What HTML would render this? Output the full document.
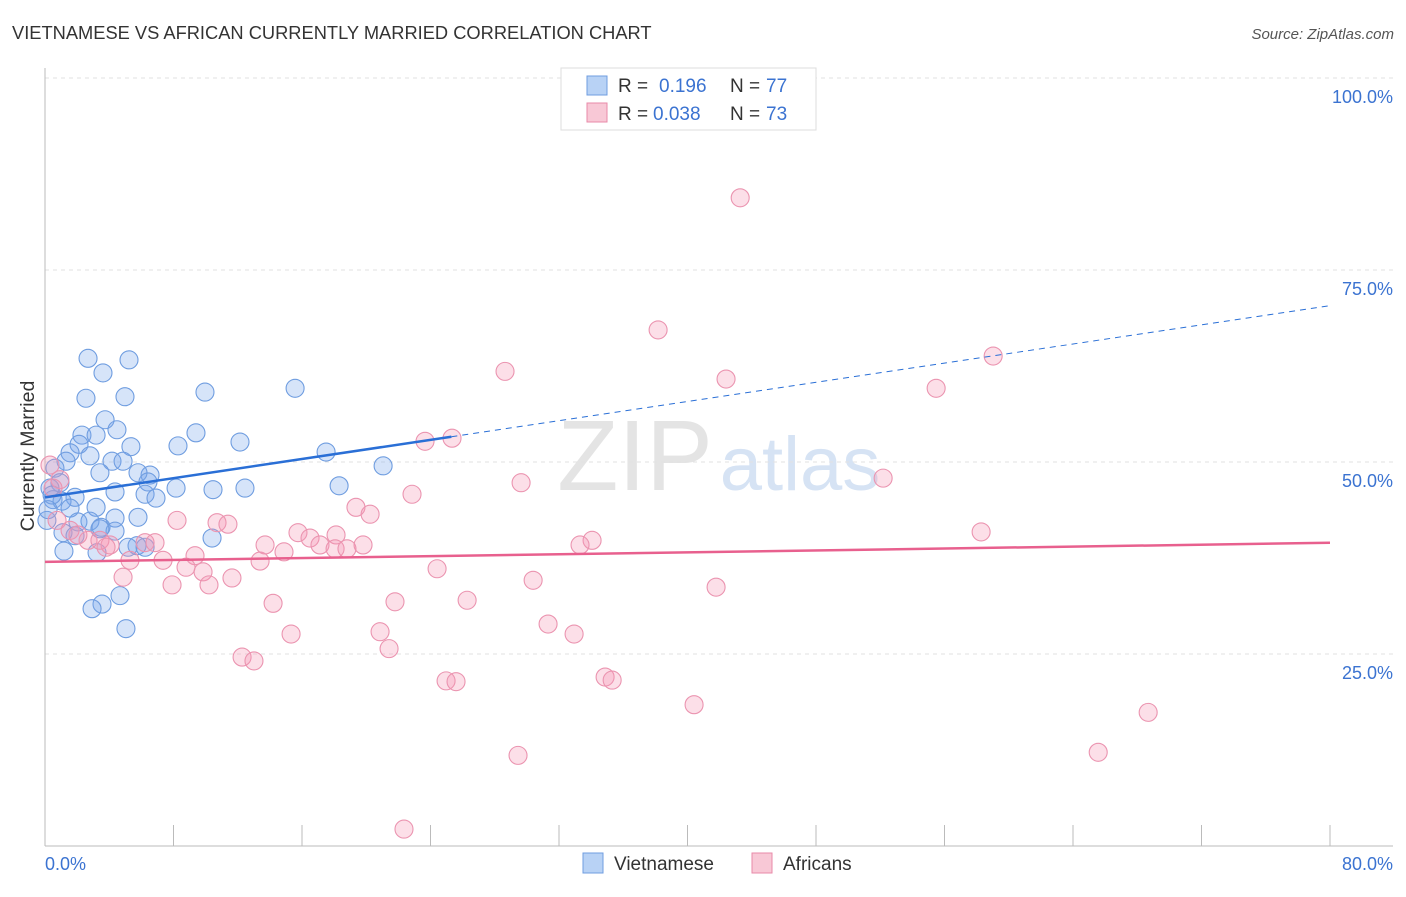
<!DOCTYPE html>
<html><head><meta charset="utf-8"><style>
body{margin:0;background:#fff;font-family:"Liberation Sans",sans-serif;}
svg text{font-family:"Liberation Sans",sans-serif;}
</style></head><body>
<svg id="chart" width="1406" height="892">
<text x="12" y="39" font-size="18.3" fill="#333">VIETNAMESE VS AFRICAN CURRENTLY MARRIED CORRELATION CHART</text>
<text x="1394" y="39" font-size="15" fill="#555" font-style="italic" text-anchor="end">Source: ZipAtlas.com</text>
<text x="635" y="490" font-size="100" fill="#e4e4e4" font-family="Liberation Serif" text-anchor="middle">ZIP</text>
<text x="800" y="490" font-size="76" fill="#d6e3f4" text-anchor="middle">atlas</text>
<text transform="translate(34,456) rotate(-90)" font-size="19.5" fill="#333" text-anchor="middle">Currently Married</text>
<g id="grid"></g><g id="axes"></g><g id="pts"></g><g id="lines"></g>
<g>
<rect x="561" y="68" width="255" height="62" fill="#fff" stroke="#ddd"/>
<rect x="587" y="76" width="20" height="19" fill="#b8d2f5" stroke="#6f9de0"/>
<text x="618" y="92" font-size="19" fill="#333">R = </text><text x="659" y="92" font-size="19" fill="#3b73d1">0.196</text>
<text x="730" y="92" font-size="19" fill="#333">N = </text><text x="766" y="92" font-size="19" fill="#3b73d1">77</text>
<rect x="587" y="103" width="20" height="19" fill="#f8c8d6" stroke="#e88aa8"/>
<text x="618" y="120" font-size="19" fill="#333">R = </text><text x="653" y="120" font-size="19" fill="#3b73d1">0.038</text>
<text x="730" y="120" font-size="19" fill="#333">N = </text><text x="766" y="120" font-size="19" fill="#3b73d1">73</text>
</g>
<g>
<rect x="583" y="853" width="20" height="20" fill="#b8d2f5" stroke="#6f9de0"/>
<text x="614" y="870" font-size="19" fill="#333">Vietnamese</text>
<rect x="752" y="853" width="20" height="20" fill="#f8c8d6" stroke="#e88aa8"/>
<text x="783" y="870" font-size="19" fill="#333">Africans</text>
</g>
</svg>
<script>
const blueX=[2.68,5.23,3.61,2.55,4.98,9.96,15.57,3.74,4.48,2.30,3.18,2.12,5.35,8.28,12.14,9.40,1.56,2.80,4.17,4.86,17.50,21.05,1.31,3.42,6.54,5.79,6.41,0.62,4.36,8.16,10.46,12.45,18.31,6.23,6.91,0.93,0.31,1.87,0.50,1.06,3.18,1.56,5.79,4.36,2.05,2.80,3.49,4.36,10.40,1.12,1.87,3.42,5.73,5.17,6.23,3.24,1.18,0.12,4.67,3.55,2.93,5.04,0.44,0.19];
const blueY=[63.5,63.3,61.6,58.3,58.5,59.1,59.6,55.5,54.2,53.5,53.5,52.3,52.0,52.1,52.6,53.8,51.2,50.8,50.1,50.1,51.3,49.5,50.1,48.6,48.3,48.6,47.4,49.2,46.1,46.6,46.4,46.6,46.9,45.8,45.3,47.3,46.6,45.4,45.1,44.9,44.1,44.0,42.8,42.7,42.2,42.3,41.5,41.0,40.1,40.8,40.4,41.3,39.1,38.9,38.9,38.2,38.4,42.4,32.6,31.5,30.9,28.3,45.7,43.8];
const pinkX=[43.28,38.17,59.03,28.64,42.40,55.48,25.34,23.66,52.18,29.64,22.85,19.36,20.24,8.22,10.71,11.39,58.28,15.75,34.06,33.31,18.12,16.50,17.12,18.06,13.70,19.80,18.80,14.88,6.23,6.85,9.34,13.39,7.35,8.78,9.84,4.86,5.29,24.41,30.39,11.64,7.91,10.21,41.78,26.28,14.20,21.79,31.32,32.94,15.32,20.86,12.27,13.01,21.42,24.97,25.59,34.87,35.31,40.41,68.68,29.45,65.57,22.35,0.31,0.93,0.50,2.68,3.42,4.05,1.56,2.05,3.80,0.75];
const pinkY=[84.4,67.2,63.8,61.8,60.8,59.6,53.1,52.7,47.9,47.3,45.8,44.1,43.2,42.4,42.1,41.9,40.9,40.8,39.8,39.2,40.5,40.1,39.2,38.7,39.2,39.2,38.7,38.3,39.5,39.5,37.8,37.1,37.2,36.3,35.7,35.0,37.2,36.1,34.6,34.9,34.0,34.0,33.7,32.0,31.6,31.8,28.9,27.6,27.6,27.9,24.6,24.1,25.7,21.5,21.4,22.0,21.6,18.4,17.4,11.8,12.2,2.2,49.6,47.7,46.6,39.8,39.8,39.2,41.1,40.5,38.9,42.4];
const yTicks=[25,50,75,100];
const yTickLabels=["25.0%","50.0%","75.0%","100.0%"];
const xTicks=[0,8,16,24,32,40,48,56,64,72,80];
const blueTrend=[45.4,0.312,25.3];
const pinkTrend=[37.0,0.031];
const NS="http://www.w3.org/2000/svg";
const sx=v=>45+v*16.0625, sy=v=>846-v*7.68;
function mk(tag,attrs,parent){const e=document.createElementNS(NS,tag);for(const k in attrs)e.setAttribute(k,attrs[k]);document.getElementById(parent).appendChild(e);return e;}
yTicks.forEach((t,i)=>{
  const g=mk('line',{x1:45,x2:1393,y1:sy(t),y2:sy(t),stroke:'#e2e2e2','stroke-dasharray':'4,4'},'grid');
  
  
  const l=mk('text',{x:1393,y:sy(t)+25,'font-size':18,fill:'#3b73d1','text-anchor':'end'},'grid');
  l.textContent=yTickLabels[i];
  
  
});
const ax=mk('line',{x1:45,x2:45,y1:68,y2:846,stroke:'#bbb'},'axes');


const bx=mk('line',{x1:45,x2:1393,y1:846,y2:846,stroke:'#bbb'},'axes');


xTicks.forEach(t=>{
  const k=mk('line',{x1:sx(t),x2:sx(t),y1:825,y2:846,stroke:'#bbb'},'axes');
  
  
});
const xl0=mk('text',{x:45,y:870,'font-size':18,fill:'#3b73d1'},'axes');xl0.textContent="0.0%";


const xl1=mk('text',{x:1393,y:870,'font-size':18,fill:'#3b73d1','text-anchor':'end'},'axes');xl1.textContent="80.0%";


blueX.forEach((x,i)=>{
  const c=mk('circle',{cx:sx(x),cy:sy(blueY[i]),r:9,fill:'rgba(120,165,235,0.3)',stroke:'#6f9de0','stroke-width':1.1},'pts');
  
  
});
pinkX.forEach((x,i)=>{
  const c=mk('circle',{cx:sx(x),cy:sy(pinkY[i]),r:9,fill:'rgba(245,150,180,0.3)',stroke:'#eb94b0','stroke-width':1.1},'pts');
  
  
});
const bl=mk('line',{x1:sx(0),y1:sy(blueTrend[0]),x2:sx(blueTrend[2]),y2:sy(blueTrend[0]+blueTrend[1]*blueTrend[2]),stroke:'#2a6fd6','stroke-width':2.5},'lines');


const bd=mk('line',{x1:sx(blueTrend[2]),y1:sy(blueTrend[0]+blueTrend[1]*blueTrend[2]),x2:sx(80),y2:sy(blueTrend[0]+blueTrend[1]*80),stroke:'#2a6fd6','stroke-width':1,'stroke-dasharray':'6,5'},'lines');


const pl=mk('line',{x1:sx(0),y1:sy(pinkTrend[0]),x2:sx(80),y2:sy(pinkTrend[0]+pinkTrend[1]*80),stroke:'#e8608e','stroke-width':2.5},'lines');


</script>
</body></html>
